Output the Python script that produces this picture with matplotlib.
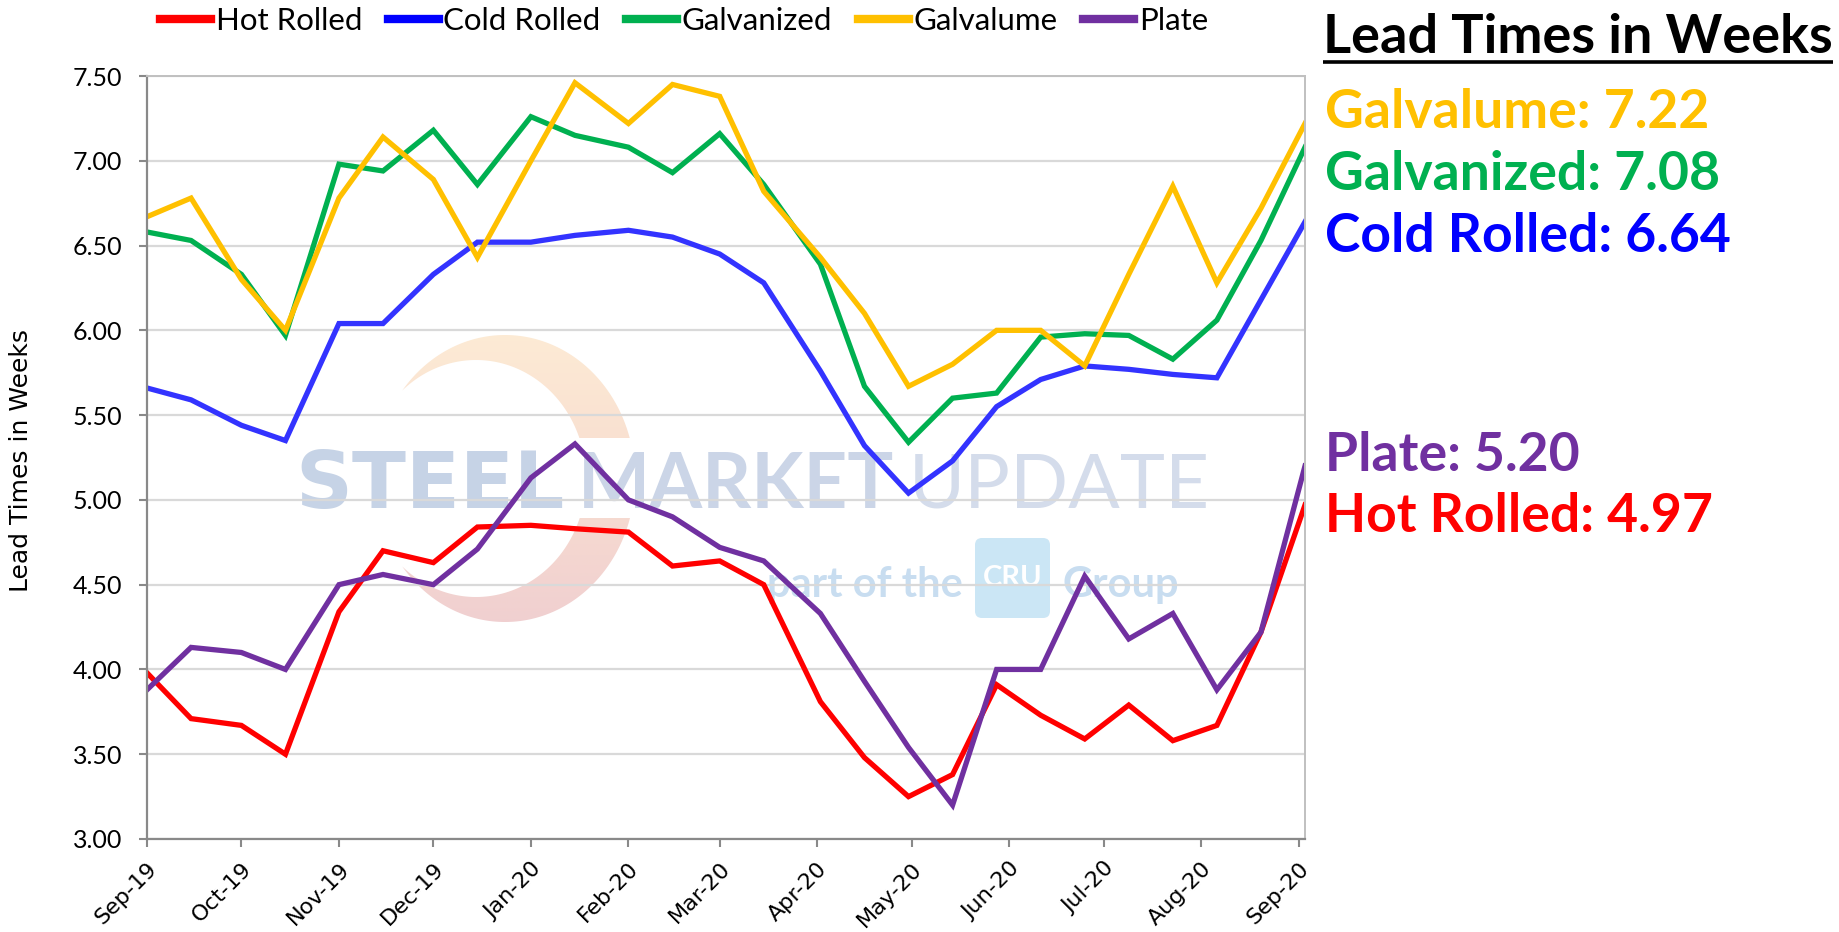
import matplotlib
matplotlib.use('Agg')
import matplotlib.pyplot as plt
import numpy as np
import pandas as pd
from matplotlib import font_manager
from matplotlib.colors import LinearSegmentedColormap
from matplotlib.patches import Polygon, FancyBboxPatch, Rectangle
from matplotlib.lines import Line2D

# survey dates (twice a month)
survey_dates = pd.to_datetime([
    "2019-09-01", "2019-09-15", "2019-10-01", "2019-10-15", "2019-11-01", "2019-11-15",
    "2019-12-01", "2019-12-15", "2020-01-01", "2020-01-15", "2020-02-01", "2020-02-15",
    "2020-03-01", "2020-03-15", "2020-04-02", "2020-04-16", "2020-04-30", "2020-05-14",
    "2020-05-28", "2020-06-11", "2020-06-25", "2020-07-09", "2020-07-23", "2020-08-06",
    "2020-08-20", "2020-09-03",
])

# lead times in weeks
hot_rolled = [3.98, 3.71, 3.67, 3.50, 4.34, 4.70, 4.63, 4.84, 4.85, 4.83, 4.81, 4.61, 4.64,
              4.50, 3.81, 3.48, 3.25, 3.38, 3.91, 3.73, 3.59, 3.79, 3.58, 3.67, 4.22, 4.97]
cold_rolled = [5.66, 5.59, 5.44, 5.35, 6.04, 6.04, 6.33, 6.52, 6.52, 6.56, 6.59, 6.55, 6.45,
               6.28, 5.76, 5.32, 5.04, 5.23, 5.55, 5.71, 5.79, 5.77, 5.74, 5.72, 6.18, 6.64]
galvanized = [6.58, 6.53, 6.33, 5.97, 6.98, 6.94, 7.18, 6.86, 7.26, 7.15, 7.08, 6.93, 7.16,
              6.86, 6.39, 5.67, 5.34, 5.60, 5.63, 5.96, 5.98, 5.97, 5.83, 6.06, 6.53, 7.08]
galvalume = [6.67, 6.78, 6.30, 6.00, 6.78, 7.14, 6.89, 6.43, 7.00, 7.46, 7.22, 7.45, 7.38,
             6.82, 6.43, 6.10, 5.67, 5.80, 6.00, 6.00, 5.79, 6.33, 6.85, 6.28, 6.72, 7.22]
plate = [3.88, 4.13, 4.10, 4.00, 4.50, 4.56, 4.50, 4.71, 5.13, 5.33, 5.00, 4.90, 4.72,
         4.64, 4.33, 3.93, 3.54, 3.20, 4.00, 4.00, 4.55, 4.18, 4.33, 3.88, 4.22, 5.20]

series_names = ["Hot Rolled", "Cold Rolled", "Galvanized", "Galvalume", "Plate"]
series_values = [hot_rolled, cold_rolled, galvanized, galvalume, plate]
legend_colors = ["#FF0000", "#0000FF", "#00B050", "#FFC000", "#7030A0"]
line_colors = ["#FF0000", "#3333FF", "#00B050", "#FFC000", "#7030A0"]

month_ticks = pd.date_range("2019-09-01", "2020-09-01", freq="MS")
month_labels = [d.strftime("%b-%y") for d in month_ticks]
y_ticks = [3.0, 3.5, 4.0, 4.5, 5.0, 5.5, 6.0, 6.5, 7.0, 7.5]

installed = {f.name for f in font_manager.fontManager.ttflist}


def pick(*names):
    for n in names:
        if n in installed:
            return n
    return "DejaVu Sans"


body_font = pick("Lato", "Open Sans")

W, H = 1839, 932
fig = plt.figure(figsize=(W / 100, H / 100), dpi=100)

# logo layer behind the chart, pixel units with y pointing down
bg = fig.add_axes([0, 0, 1, 1], zorder=0)
bg.axis("off")

t = np.linspace(-np.pi, np.pi, 1441)
ox, oy = 505 + 130 * np.cos(t), 478.5 + 143.5 * np.sin(t)
ix, iy = 476 + 110 * np.cos(t), 478.5 + 118.5 * np.sin(t)
keep_o = ((ox - 476) / 110) ** 2 + ((oy - 478.5) / 118.5) ** 2 > 1
keep_i = ((ix - 505) / 130) ** 2 + ((iy - 478.5) / 143.5) ** 2 < 1
arc_xy = np.r_[np.c_[ox[keep_o], oy[keep_o]], np.c_[ix[keep_i], iy[keep_i]][::-1]]
arc = Polygon(arc_xy, closed=True, facecolor="none", edgecolor="none")
bg.add_patch(arc)
arc_cmap = LinearSegmentedColormap.from_list("arc", ["#FDEBD5", "#F8DDD0", "#F0CFD0"])
im = bg.imshow(np.linspace(0, 1, 256).reshape(-1, 1), cmap=arc_cmap, aspect="auto",
               extent=(360, 650, 630, 330), zorder=1)
im.set_clip_path(arc)
bg.add_patch(Rectangle((360, 438), 290, 80, facecolor="white", edgecolor="none", zorder=2))

bg.text(295, 508, "STEEL", fontsize=57, fontfamily="DejaVu Sans", fontweight="bold",
        color="#C6D3E6", va="baseline", zorder=3)
bg.text(578, 508, "MARKET", fontsize=55, fontfamily=body_font, fontweight="bold",
        color="#CBD5E7", va="baseline", zorder=3)
bg.text(909, 508, "UPDATE", fontsize=55, fontfamily=body_font, fontweight="normal",
        color="#D4DCEB", va="baseline", zorder=3)
bg.text(767, 597, "part of the", fontsize=30, fontfamily=body_font, fontweight="bold",
        color="#C8DDF0", va="baseline", zorder=3)
bg.text(1063, 597, "Group", fontsize=30, fontfamily=body_font, fontweight="bold",
        color="#C8DDF0", va="baseline", zorder=3)
bg.add_patch(FancyBboxPatch((975, 538), 75, 80, boxstyle="round,pad=0,rounding_size=7",
                            facecolor="#CBE6F5", edgecolor="none", zorder=3))
bg.text(1012.5, 578, "CRU", fontsize=21, fontfamily=body_font, fontweight="bold",
        color="white", ha="center", va="center", zorder=4)
bg.set_autoscale_on(False)
bg.set_xlim(0, W)
bg.set_ylim(H, 0)

# main chart
ax = fig.add_axes([147 / W, 1 - 839 / H, (1305 - 147) / W, (839 - 76) / H], zorder=1)
ax.set_facecolor("none")

for name, vals, col in zip(series_names, series_values, line_colors):
    ax.plot(survey_dates, vals, color=col, lw=3.8, label=name, solid_joinstyle="miter")

ax.set_xlim(pd.Timestamp("2019-09-01"), pd.Timestamp("2020-09-03"))
ax.set_ylim(3.0, 7.5)
ax.set_yticks(y_ticks, [f"{v:.2f}" for v in y_ticks], fontfamily=body_font, fontsize=18)
ax.set_xticks(month_ticks, month_labels, rotation=45, ha="right", rotation_mode="anchor",
              fontfamily="DejaVu Sans", fontsize=16)
ax.yaxis.grid(True, color="#D9D9D9", lw=1.6)
ax.set_axisbelow(True)
for side in ["left", "bottom"]:
    ax.spines[side].set_color("#898989")
    ax.spines[side].set_linewidth(1.6)
for side in ["top", "right"]:
    ax.spines[side].set_color("#C0C0C0")
    ax.spines[side].set_linewidth(1.4)
ax.tick_params(axis="y", direction="out", length=6, width=1.5, color="#898989", pad=12)
ax.tick_params(axis="x", direction="out", length=6, width=1.5, color="#898989", pad=8)

fig.text(21 / W, 1 - 460 / H, "Lead Times in Weeks", rotation=90, ha="center", va="center",
         fontsize=18, fontfamily="DejaVu Sans")

handles = [Line2D([], [], color=c, lw=6) for c in legend_colors]
fig.legend(handles, series_names, loc="center left", bbox_to_anchor=(160 / W, 1 - 21 / H),
           ncol=5, frameon=False, prop={"family": body_font, "size": 22.5},
           handlelength=1.63, handletextpad=0.15, columnspacing=0.82,
           borderpad=0, borderaxespad=0)

# latest readings on the right
title = fig.text(1323 / W, 1 - 53 / H, "Lead Times in Weeks", fontsize=39,
                 fontfamily=body_font, fontweight="bold", va="baseline")
latest = [
    ("Galvalume", galvalume, "#FFC000", 128),
    ("Galvanized", galvanized, "#00B050", 190),
    ("Cold Rolled", cold_rolled, "#0000FF", 252),
    ("Plate", plate, "#7030A0", 471),
    ("Hot Rolled", hot_rolled, "#FF0000", 532),
]
for name, vals, col, ypix in latest:
    fig.text(1325 / W, 1 - ypix / H, f"{name}: {vals[-1]:.2f}", fontsize=38.5,
             fontfamily=body_font, fontweight="bold", color=col, va="baseline")

fig.canvas.draw()
bb = title.get_window_extent()
bg.plot([bb.x0, bb.x1], [62, 62], color="black", lw=2.6, solid_capstyle="butt", zorder=5)

fig.savefig("out.png", dpi=100)
